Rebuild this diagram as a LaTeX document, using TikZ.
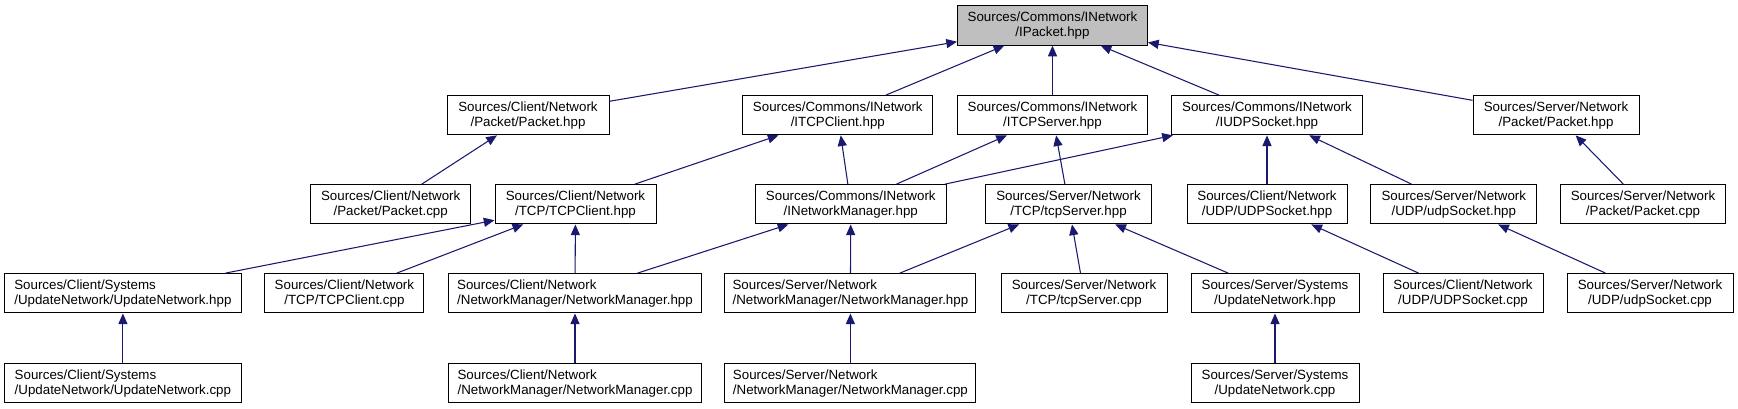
\documentclass[tikz,border=0pt]{standalone}
\usepackage{fontspec}
\setmainfont{Liberation Sans}
\usetikzlibrary{arrows.meta}
\definecolor{edgeblue}{RGB}{25,25,112}
\definecolor{rootgray}{RGB}{191,191,191}

\begin{document}
\begin{tikzpicture}[x=0.75pt, y=-0.75pt, >={Triangle[length=8pt,width=6.8pt]},
  every node/.style={font=\fontsize{10}{11.25}\selectfont},
  file/.style={draw=black, fill=white, line width=0.75pt, minimum height=29.5pt, inner sep=2pt, align=center, minimum width=#1*0.75pt},
  lfile/.style={file=#1, align=left},
  dep/.style={->, draw=edgeblue, line width=0.8pt}]
				\useasboundingbox (0,0) rectangle (1738,409);
				
				% 1. 根节点
				\node[file=190, fill=rootgray] (ipacket) at (1052.5,25.5) {Sources/Commons/INetwork\\/IPacket.hpp};
				
				% 2. 第一层
				\node[file=162] (cpkth) at (528,115.2) {Sources/Client/Network\\/Packet/Packet.hpp};
				\node[file=190] (itcpc) at (837.8,115.2) {Sources/Commons/INetwork\\/ITCPClient.hpp};
				\node[file=190] (itcps) at (1052.5,115.2) {Sources/Commons/INetwork\\/ITCPServer.hpp};
				\node[file=191] (iudp) at (1267,115.2) {Sources/Commons/INetwork\\/IUDPSocket.hpp};
				\node[file=166] (spkth) at (1556,115.2) {Sources/Server/Network\\/Packet/Packet.hpp};
				
				% 3. 第二层
				\node[file=160] (cpktcpp) at (390.7,204.3) {Sources/Client/Network\\/Packet/Packet.cpp};
				\node[file=161] (tcpch) at (575.5,204.3) {Sources/Client/Network\\/TCP/TCPClient.hpp};
				\node[file=191] (inetmgr) at (850.8,204.3) {Sources/Commons/INetwork\\/INetworkManager.hpp};
				\node[file=166] (tcpsh) at (1068.5,204.3) {Sources/Server/Network\\/TCP/tcpServer.hpp};
				\node[file=160] (cudph) at (1267,204.3) {Sources/Client/Network\\/UDP/UDPSocket.hpp};
				\node[file=166] (sudph) at (1453.8,204.3) {Sources/Server/Network\\/UDP/udpSocket.hpp};
				\node[file=165] (spktcpp) at (1643,204.3) {Sources/Server/Network\\/Packet/Packet.cpp};
				
				% 4. 第三层
				\node[lfile=236.5] (cupdh) at (122.9,293.3) {Sources/Client/Systems\\/UpdateNetwork/UpdateNetwork.hpp};
				\node[file=159] (tcpccpp) at (344.4,293.3) {Sources/Client/Network\\/TCP/TCPClient.cpp};
				\node[lfile=253] (cmgrh) at (575,293.3) {Sources/Client/Network\\/NetworkManager/NetworkManager.hpp};
				\node[lfile=251] (smgrh) at (850.4,293.3) {Sources/Server/Network\\/NetworkManager/NetworkManager.hpp};
				\node[file=166] (tcpscpp) at (1084,293.3) {Sources/Server/Network\\/TCP/tcpServer.cpp};
				\node[file=168] (supdh) at (1275,293.3) {Sources/Server/Systems\\/UpdateNetwork.hpp};
				\node[file=160] (cudpcpp) at (1463,293.3) {Sources/Client/Network\\/UDP/UDPSocket.cpp};
				\node[file=166] (sudpcpp) at (1650,293.3) {Sources/Server/Network\\/UDP/udpSocket.cpp};
				
				% 5. 第四层
				\node[lfile=236.5] (cupdcpp) at (122.9,383.3) {Sources/Client/Systems\\/UpdateNetwork/UpdateNetwork.cpp};
				\node[lfile=253] (cmgrcpp) at (575,383.3) {Sources/Client/Network\\/NetworkManager/NetworkManager.cpp};
				\node[lfile=251] (smgrcpp) at (850.4,383.3) {Sources/Server/Network\\/NetworkManager/NetworkManager.cpp};
				\node[file=168] (supdcpp) at (1275,383.3) {Sources/Server/Systems\\/UpdateNetwork.cpp};
				
				% 6. 包含关系
				\foreach \a/\b in {cpkth/ipacket, itcpc/ipacket, itcps/ipacket, iudp/ipacket, spkth/ipacket,
					cpktcpp/cpkth, tcpch/itcpc, inetmgr/itcpc, inetmgr/itcps, tcpsh/itcps, inetmgr/iudp,
					cudph/iudp, sudph/iudp, spktcpp/spkth,
					cupdh/tcpch, tcpccpp/tcpch, cmgrh/tcpch, cmgrh/inetmgr, smgrh/inetmgr,
					smgrh/tcpsh, tcpscpp/tcpsh, supdh/tcpsh, cudpcpp/cudph, sudpcpp/sudph,
					cupdcpp/cupdh, cmgrcpp/cmgrh, smgrcpp/smgrh, supdcpp/supdh}
					\draw[dep] (\a) -- (\b);
			\end{tikzpicture}
\end{document}
